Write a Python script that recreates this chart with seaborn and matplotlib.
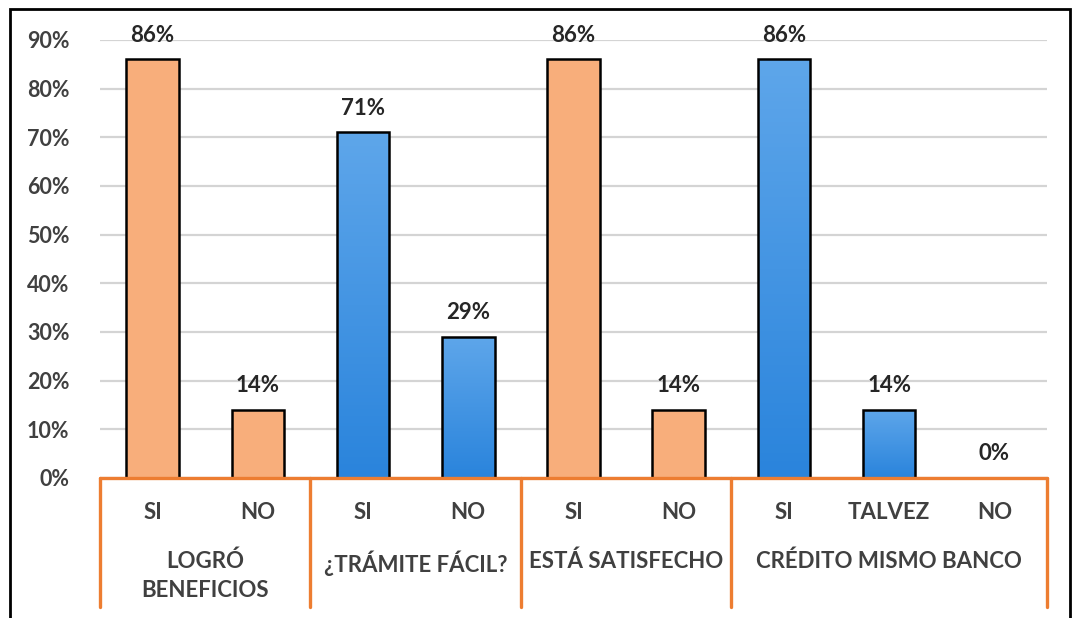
import numpy as np
import pandas as pd
import matplotlib.pyplot as plt
import matplotlib.transforms as mtransforms
from matplotlib.colors import LinearSegmentedColormap, to_rgb
import seaborn as sns

grupos = ['LOGRÓ\nBENEFICIOS', '¿TRÁMITE FÁCIL?', 'ESTÁ SATISFECHO', 'CRÉDITO MISMO BANCO']
respuestas = [['SI', 'NO'], ['SI', 'NO'], ['SI', 'NO'], ['SI', 'TALVEZ', 'NO']]
valores = [[0.86, 0.14], [0.71, 0.29], [0.86, 0.14], [0.86, 0.14, 0.00]]
colores_grupo = ['naranja', 'azul', 'naranja', 'azul']
yticks = [0, 0.1, 0.2, 0.3, 0.4, 0.5, 0.6, 0.7, 0.8, 0.9]

filas = []
for g, resp, vals, c in zip(grupos, respuestas, valores, colores_grupo):
    for r, v in zip(resp, vals):
        filas.append({'clave': f'{g}|{r}', 'grupo': g, 'respuesta': r, 'valor': v, 'color': c})
df = pd.DataFrame(filas)

NARANJA = '#F8AE7B'
AZUL = '#4596E4'
TEXTO = '#404040'
LINEA = '#ED7D31'

sns.set_theme(style='white')
plt.rcParams['font.family'] = ['Lato', 'DejaVu Sans']
plt.rcParams['font.weight'] = 'bold'

fig = plt.figure(figsize=(10.77, 6.18), dpi=100)
ax = fig.add_axes([100 / 1077, 140 / 618, 947 / 1077, 438 / 618])

sns.barplot(data=df, x='clave', y='valor', hue='color', palette={'naranja': NARANJA, 'azul': AZUL},
            dodge=False, width=0.5, saturation=1, edgecolor='black', linewidth=1.8, legend=False,
            ax=ax, zorder=3)

# degradado en las barras azules
grad = LinearSegmentedColormap.from_list('azul', ['#2A84DC', '#5EA6EA'])
for p in ax.patches:
    if p.get_height() <= 0:
        p.set_visible(False)
        continue
    if np.allclose(p.get_facecolor()[:3], to_rgb(AZUL)):
        x0, w, h = p.get_x(), p.get_width(), p.get_height()
        im = ax.imshow(np.linspace(0, 1, 100).reshape(-1, 1), cmap=grad, origin='lower',
                       extent=[x0, x0 + w, 0, h], aspect='auto', zorder=3.5)
        im.set_clip_path(p)
        p.set_zorder(4)
        p.set_facecolor('none')

ax.set_xlim(-0.5, len(df) - 0.5)
ax.set_ylim(0, 0.9)
ax.set_yticks(yticks)
ax.set_yticklabels([f'{int(round(t * 100))}%' for t in yticks], fontsize=15.5, color=TEXTO, fontweight='bold')
ax.tick_params(axis='y', length=0, pad=22)
ax.set_xticks([])
ax.set_xlabel('')
ax.set_ylabel('')
for s in ax.spines.values():
    s.set_visible(False)
ax.grid(axis='y', color='#D4D4D4', linewidth=1.6, zorder=0)
ax.grid(axis='x', visible=False)

for i, v in enumerate(df['valor']):
    ax.annotate(f'{int(round(v * 100))}%', (i, v), xytext=(0, 10), textcoords='offset points',
                ha='center', va='bottom', fontsize=16, color='#262626', fontweight='bold', annotation_clip=False)

trans = mtransforms.blended_transform_factory(ax.transData, ax.transAxes)
for i, r in enumerate(df['respuesta']):
    ax.text(i, -0.078, r, transform=trans, ha='center', va='center', fontsize=16, color=TEXTO, fontweight='bold')

ax.plot([-0.5, len(df) - 0.5], [0, 0], color=LINEA, linewidth=2.4, clip_on=False, zorder=5)
inicio = -0.5
limites = [-0.5]
for g, resp in zip(grupos, respuestas):
    fin = inicio + len(resp)
    ax.text((inicio + fin) / 2, -0.166, g, transform=trans, ha='center', va='top', fontsize=16,
            color=TEXTO, fontweight='bold', linespacing=1.45)
    limites.append(fin)
    inicio = fin
for b in limites:
    ax.plot([b, b], [0, -0.295], transform=trans, color=LINEA, linewidth=2.4, clip_on=False, zorder=5)

# borde negro del gráfico
fig.patches.append(plt.Rectangle((10 / 1077, -0.05), 1060 / 1077, 1.05 - 9 / 618, transform=fig.transFigure,
                                 fill=False, edgecolor='black', linewidth=2))

fig.savefig('out.png', dpi=100)
